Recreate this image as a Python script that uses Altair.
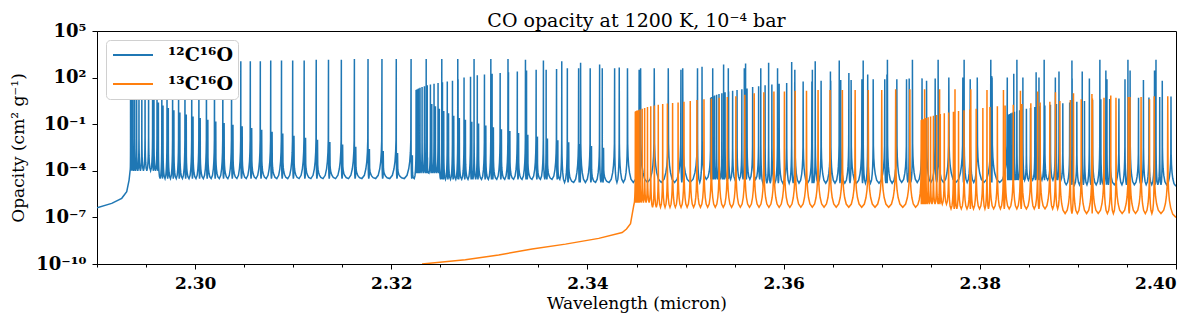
import altair as alt
import numpy as np
import pandas as pd

# ---------------- data (wavelength in micron, log10 opacity) ----------------
BLUE_PRE_WL = [2.29000, 2.29150, 2.29252, 2.29303, 2.29327, 2.29339]
BLUE_PRE_LOG = [-6.38, -6.10, -5.77, -5.35, -4.60, -3.90]

CO12_20R_WL = [2.29342, 2.29347, 2.29355, 2.29367, 2.29384, 2.29404, 2.29428, 2.29457, 2.29490, 2.29526,
               2.29567, 2.29612, 2.29661, 2.29714, 2.29771, 2.29832, 2.29897, 2.29966, 2.30039, 2.30116,
               2.30198, 2.30283, 2.30372, 2.30466, 2.30563, 2.30665, 2.30771, 2.30881, 2.30995, 2.31112,
               2.31235, 2.31360, 2.31491, 2.31624, 2.31763, 2.31905, 2.32051, 2.32202, 2.32356, 2.32515,
               2.32678, 2.32844, 2.33015, 2.33190, 2.33368, 2.33551, 2.33738, 2.33930, 2.34124, 2.34324,
               2.34527]
CO12_20R_LOG = [1.60, 1.62, 1.65, 1.70, 1.75, 1.80, 1.85, 1.90, 2.00, 2.10,
                2.20, 2.30, 2.40, 2.50, 2.55, 2.60, 2.75, 2.85, 2.90, 2.95,
                3.00, 3.00, 3.00, 3.05, 3.05, 3.05, 3.10, 3.10, 3.10, 3.10,
                3.15, 3.15, 3.15, 3.20, 3.20, 3.20, 3.20, 3.20, 3.20, 3.20,
                3.20, 3.20, 3.20, 3.20, 3.15, 3.10, 3.05, 2.95, 2.85, 2.65,
                2.50]

CO12_20FB_WL = [2.29581, 2.29626, 2.29673, 2.29727, 2.29784, 2.29845, 2.29910, 2.29979, 2.30052, 2.30130,
                2.30211, 2.30296, 2.30386, 2.30480, 2.30577, 2.30679, 2.30785, 2.30894, 2.31008, 2.31126,
                2.31248, 2.31374, 2.31504, 2.31638, 2.31777, 2.31918, 2.32064, 2.32215, 2.32369, 2.32529]
CO12_20FB_LOG = [0.60, 0.40, 0.20, 0.05, -0.10, -0.25, -0.38, -0.50, -0.60, -0.72,
                 -0.83, -0.93, -1.03, -1.13, -1.25, -1.35, -1.48, -1.60, -1.75, -1.88,
                 -2.00, -2.15, -2.30, -2.45, -2.60, -2.72, -2.85, -3.00, -3.15, -3.30]

CO12_31R_WL = [2.32253, 2.32257, 2.32265, 2.32277, 2.32293, 2.32314, 2.32338, 2.32367, 2.32399, 2.32436,
               2.32477, 2.32522, 2.32571, 2.32624, 2.32681, 2.32742, 2.32808, 2.32877, 2.32950, 2.33028,
               2.33110, 2.33195, 2.33285, 2.33379, 2.33477, 2.33579, 2.33685, 2.33795, 2.33910, 2.34028,
               2.34151, 2.34277, 2.34408, 2.34542, 2.34681, 2.34824, 2.34971, 2.35122, 2.35277, 2.35436,
               2.35599, 2.35767, 2.35938, 2.36114, 2.36293, 2.36477, 2.36665, 2.36857, 2.37053, 2.37253,
               2.37457]
CO12_31R_LOG = [1.20, 1.22, 1.25, 1.30, 1.35, 1.40, 1.45, 1.50, 1.55, 1.60,
                1.65, 1.70, 1.75, 1.80, 1.90, 2.00, 2.05, 2.15, 2.20, 2.25,
                2.30, 2.35, 2.40, 2.45, 2.50, 2.50, 2.55, 2.60, 2.60, 2.60,
                2.60, 2.60, 2.60, 2.60, 2.60, 2.60, 2.60, 2.60, 2.60, 2.60,
                2.60, 2.60, 2.60, 2.50, 2.50, 2.40, 2.30, 2.20, 2.20, 1.90,
                1.80]

CO12_31FB_WL = [2.32413, 2.32450, 2.32490, 2.32535, 2.32584, 2.32637, 2.32694, 2.32756, 2.32821, 2.32890,
                2.32964, 2.33041, 2.33123, 2.33209, 2.33298, 2.33392, 2.33490, 2.33592, 2.33698, 2.33809,
                2.33923, 2.34041, 2.34164]
CO12_31FB_LOG = [0.30, 0.15, 0.00, -0.15, -0.30, -0.45, -0.60, -0.72, -0.84, -0.96,
                 -1.08, -1.20, -1.32, -1.44, -1.56, -1.68, -1.80, -1.92, -2.04, -2.16,
                 -2.28, -2.40, -2.52]

CO12_20P_WL = [2.34953, 2.35168, 2.35388, 2.35612, 2.35847, 2.36082, 2.36322, 2.36567, 2.36811, 2.37058,
               2.37313, 2.37575, 2.37840, 2.38112, 2.38378, 2.38656, 2.38939, 2.39224, 2.39510, 2.39796]
CO12_20P_LOG = [2.50, 2.70, 2.85, 2.90, 2.95, 3.00, 3.05, 3.10, 3.10, 3.15,
                3.15, 3.15, 3.15, 3.15, 3.15, 3.15, 3.10, 3.15, 3.15, 3.15]

CO12_31P_WL = [2.37902, 2.38121, 2.38346, 2.38574, 2.38807, 2.39044, 2.39285, 2.39532, 2.39781]
CO12_31P_LOG = [1.90, 2.10, 2.25, 2.35, 2.40, 2.40, 2.45, 2.45, 2.45]

CO12_42R_WL = [2.35256, 2.35260, 2.35268, 2.35280, 2.35296, 2.35317, 2.35341, 2.35370, 2.35403, 2.35439,
               2.35480, 2.35525, 2.35574, 2.35627, 2.35684, 2.35745, 2.35811, 2.35880, 2.35954, 2.36031,
               2.36113, 2.36199, 2.36288, 2.36382, 2.36480, 2.36582, 2.36688, 2.36798, 2.36913, 2.37031,
               2.37154, 2.37280, 2.37411, 2.37545, 2.37684, 2.37827, 2.37974, 2.38125, 2.38280, 2.38439,
               2.38603, 2.38770, 2.38941, 2.39117, 2.39296, 2.39480, 2.39668, 2.39860]
CO12_42R_LOG = [0.70, 0.72, 0.75, 0.80, 0.85, 0.90, 0.95, 1.00, 1.05, 1.10,
                1.15, 1.20, 1.25, 1.30, 1.40, 1.45, 1.50, 1.55, 1.60, 1.65,
                1.70, 1.75, 1.75, 1.80, 1.80, 1.85, 1.85, 1.90, 1.90, 1.90,
                1.90, 1.95, 1.95, 1.95, 2.00, 2.00, 2.00, 2.00, 2.00, 2.00,
                2.00, 2.00, 1.95, 1.95, 1.90, 1.90, 1.85, 1.80]

CO12_53R_WL = [2.38291, 2.38295, 2.38304, 2.38316, 2.38332, 2.38353, 2.38377, 2.38406, 2.38438, 2.38475,
               2.38516, 2.38561, 2.38610, 2.38663, 2.38720, 2.38781, 2.38846, 2.38916, 2.38989, 2.39067,
               2.39149, 2.39234, 2.39324, 2.39418, 2.39516, 2.39618, 2.39724, 2.39834, 2.39949]
CO12_53R_LOG = [-0.40, -0.38, -0.35, -0.30, -0.25, -0.20, -0.15, -0.10, -0.05, 0.00,
                0.05, 0.10, 0.15, 0.20, 0.25, 0.30, 0.35, 0.40, 0.45, 0.50,
                0.55, 0.60, 0.62, 0.65, 0.68, 0.70, 0.72, 0.75, 0.78]

# level of the valleys between lines, per wavelength stretch
BLUE_TROUGH_FROM = [2.2933, 2.2964, 2.3224, 2.3250, 2.3372, 2.3515, 2.3577, 2.3720, 2.3822, 2.3883]
BLUE_TROUGH_LOG = [-4.00, -4.50, -4.15, -4.55, -4.75, -4.55, -4.80, -4.75, -4.60, -4.90]
BLUE_END = (2.40, -5.00)

ORANGE_PRE_WL = [2.32314, 2.32755, 2.33095, 2.33436, 2.33776, 2.34115, 2.34354, 2.34398, 2.34439, 2.34473]
ORANGE_PRE_LOG = [-10.00, -9.72, -9.42, -9.04, -8.72, -8.35, -7.97, -7.75, -7.40, -6.20]

CO13_20R_WL = [2.34488, 2.34490, 2.34496, 2.34505, 2.34519, 2.34536, 2.34558, 2.34583, 2.34612, 2.34645,
               2.34682, 2.34722, 2.34767, 2.34815, 2.34868, 2.34924, 2.34984, 2.35048, 2.35116, 2.35188,
               2.35263, 2.35343, 2.35426, 2.35513, 2.35604, 2.35700, 2.35798, 2.35901, 2.36008, 2.36118,
               2.36233, 2.36351, 2.36473, 2.36599, 2.36729, 2.36863, 2.37000, 2.37142, 2.37287, 2.37437,
               2.37590, 2.37747, 2.37908, 2.38073, 2.38241, 2.38414, 2.38590, 2.38771, 2.38955, 2.39143,
               2.39335, 2.39531, 2.39730]
CO13_20R_LOG = [-0.20, -0.18, -0.15, -0.12, -0.10, -0.05, 0.00, 0.05, 0.10, 0.15,
                0.20, 0.25, 0.30, 0.33, 0.36, 0.40, 0.45, 0.50, 0.55, 0.60,
                0.65, 0.70, 0.75, 0.80, 0.90, 1.00, 1.05, 1.10, 1.10, 1.15,
                1.15, 1.20, 1.20, 1.20, 1.20, 1.20, 1.20, 1.25, 1.25, 1.25,
                1.25, 1.25, 1.25, 1.20, 1.20, 1.15, 1.10, 1.05, 1.00, 0.95,
                0.85, 0.75, 0.60]

CO13_31R_WL = [2.37403, 2.37405, 2.37411, 2.37421, 2.37434, 2.37452, 2.37473, 2.37498, 2.37527, 2.37560,
               2.37597, 2.37638, 2.37682, 2.37731, 2.37783, 2.37839, 2.37899, 2.37963, 2.38031, 2.38103,
               2.38179, 2.38258, 2.38341, 2.38429, 2.38520, 2.38615, 2.38714, 2.38816, 2.38923, 2.39034,
               2.39148, 2.39266, 2.39388, 2.39514, 2.39644, 2.39778, 2.39916]
CO13_31R_LOG = [-0.75, -0.73, -0.70, -0.68, -0.65, -0.60, -0.55, -0.50, -0.45, -0.40,
                -0.35, -0.30, -0.25, -0.20, -0.15, -0.10, -0.05, 0.00, 0.05, 0.10,
                0.15, 0.20, 0.25, 0.30, 0.35, 0.40, 0.45, 0.50, 0.55, 0.60,
                0.65, 0.70, 0.70, 0.75, 0.75, 0.80, 0.80]

ORANGE_TROUGH_FROM = [2.3448, 2.3465, 2.3740, 2.3770, 2.3880]
ORANGE_TROUGH_LOG = [-6.05, -6.35, -6.15, -6.45, -6.75]
ORANGE_END = (2.40, -7.00)

SPECIES = ["¹²C¹⁶O", "¹³C¹⁶O"]
COLORS = ["#1f77b4", "#ff7f0e"]
X_MAJOR = [2.30, 2.32, 2.34, 2.36, 2.38, 2.40]
X_MINOR = [2.290, 2.295, 2.300, 2.305, 2.310, 2.315, 2.320, 2.325, 2.330, 2.335, 2.340, 2.345,
           2.350, 2.355, 2.360, 2.365, 2.370, 2.375, 2.380, 2.385, 2.390, 2.395, 2.400]
Y_TICKS = [1e-10, 1e-7, 1e-4, 1e-1, 1e2, 1e5]

# drawing style of one spectral line: its flanks (fraction of the half gap to the
# neighbouring valley, and rise above the valley in decades)
LINE_SHAPE_U = [0.6, 0.35, 0.2, 0.1, 0.04]
LINE_SHAPE_DEX = [0.21, 0.63, 1.1, 1.7, 2.5]


def spectrum(pre_wl, pre_log, bands, trough_from, trough_log, end, name):
    for w, h in bands:
        assert len(w) == len(h)
    wl = np.concatenate([np.asarray(w, float) for w, _ in bands])
    lg = np.concatenate([np.asarray(h, float) for _, h in bands])
    o = np.argsort(wl, kind="stable")
    wl, lg = wl[o], lg[o]
    vx = [pre_wl[-1]]
    vy = [pre_log[-1]]
    for i in range(len(wl) - 1):
        mid = 0.5 * (wl[i] + wl[i + 1])
        k = max(0, int(np.searchsorted(trough_from, mid, side="right")) - 1)
        vx.append(mid)
        vy.append(trough_log[k])
    vx.append(end[0])
    vy.append(end[1])
    xs, ys = list(pre_wl), list(pre_log)
    for i in range(len(wl)):
        c, p = wl[i], lg[i]
        lx, lv, rx, rv = vx[i], vy[i], vx[i + 1], vy[i + 1]
        sl = float(np.clip((p - lv) / 7.0, 0.0, 1.0))
        sr = float(np.clip((p - rv) / 7.0, 0.0, 1.0))
        for u, d in zip(LINE_SHAPE_U, LINE_SHAPE_DEX):
            xs.append(c - u * (c - lx))
            ys.append(lv + d * sl)
        xs.append(c)
        ys.append(p)
        for u, d in zip(LINE_SHAPE_U[::-1], LINE_SHAPE_DEX[::-1]):
            xs.append(c + u * (rx - c))
            ys.append(rv + d * sr)
        xs.append(rx)
        ys.append(rv)
    return pd.DataFrame({"wl": xs, "opacity": 10.0 ** np.asarray(ys), "species": name,
                         "idx": np.arange(len(xs))})


blue_df = spectrum(BLUE_PRE_WL, BLUE_PRE_LOG,
                   [(CO12_20R_WL, CO12_20R_LOG), (CO12_20FB_WL, CO12_20FB_LOG),
                    (CO12_31R_WL, CO12_31R_LOG), (CO12_31FB_WL, CO12_31FB_LOG),
                    (CO12_20P_WL, CO12_20P_LOG), (CO12_31P_WL, CO12_31P_LOG),
                    (CO12_42R_WL, CO12_42R_LOG), (CO12_53R_WL, CO12_53R_LOG)],
                   BLUE_TROUGH_FROM, BLUE_TROUGH_LOG, BLUE_END, SPECIES[0])
orange_df = spectrum(ORANGE_PRE_WL, ORANGE_PRE_LOG,
                     [(CO13_20R_WL, CO13_20R_LOG), (CO13_31R_WL, CO13_31R_LOG)],
                     ORANGE_TROUGH_FROM, ORANGE_TROUGH_LOG, ORANGE_END, SPECIES[1])

FONT = "DejaVu Serif"
x_scale = alt.Scale(domain=[2.29, 2.40], nice=False, zero=False)
y_scale = alt.Scale(type="log", domain=[1e-10, 1e5], nice=False)
label_expr = ("datum.value >= 1e4 ? '10⁵' : datum.value >= 10 ? '10²' : datum.value >= 0.01 ? '10⁻¹' : "
              "datum.value >= 1e-5 ? '10⁻⁴' : datum.value >= 1e-8 ? '10⁻⁷' : '10⁻¹⁰'")
y_axis = alt.Axis(values=Y_TICKS, labelExpr=label_expr, title="Opacity (cm² g⁻¹)",
                  tickSize=5, labelPadding=6, labelFontSize=18, labelFontWeight="bold",
                  titleFontSize=17, titleFontWeight="normal", titlePadding=8, grid=False)
color = alt.Color("species:N", scale=alt.Scale(domain=SPECIES, range=COLORS),
                  legend=alt.Legend(title=None, orient="none", legendX=9, legendY=9,
                                    symbolType="stroke", symbolSize=1600, symbolStrokeWidth=2,
                                    symbolOffset=1, clipHeight=20,
                                    labelFont=FONT, labelFontWeight="bold", labelFontSize=19,
                                    labelOffset=14, padding=5, rowPadding=9,
                                    strokeColor="#d0d0d0", fillColor="white", cornerRadius=4))

blue = alt.Chart(blue_df).mark_line(strokeWidth=1.5, clip=True).encode(
    x=alt.X("wl:Q", scale=x_scale,
            axis=alt.Axis(values=X_MAJOR, format=".2f", title="Wavelength (micron)", orient="bottom",
                          tickSize=5, labelPadding=6, labelFontSize=17, labelFontWeight="bold",
                          titleFontSize=17, titleFontWeight="normal", titlePadding=4, grid=False)),
    y=alt.Y("opacity:Q", scale=y_scale, axis=y_axis),
    color=color,
    order="idx:Q",
)
orange = alt.Chart(orange_df).mark_line(strokeWidth=1.5, clip=True).encode(
    x=alt.X("wl:Q", scale=x_scale,
            axis=alt.Axis(values=X_MINOR, labels=False, title=None, orient="bottom", tickSize=3,
                          domain=False, grid=False)),
    y=alt.Y("opacity:Q", scale=y_scale, axis=y_axis),
    color=color,
    order="idx:Q",
)

chart = alt.layer(blue, orange).resolve_axis(x="independent").properties(
    width=1079, height=233,
    title=alt.Title("CO opacity at 1200 K, 10⁻⁴ bar", font=FONT, fontSize=19, fontWeight="normal",
                    anchor="middle", offset=10, dy=18.5, color="black"),
    padding={"left": 89, "top": 23, "right": 16, "bottom": 55},
    autosize=alt.AutoSizeParams(type="none"),
).configure_view(stroke="black", strokeWidth=1).configure_axis(
    labelFont=FONT, titleFont=FONT, labelColor="black", titleColor="black",
    domainColor="black", tickColor="black",
)

chart.save("out.html", embed_options={"renderer": "svg", "actions": False})
